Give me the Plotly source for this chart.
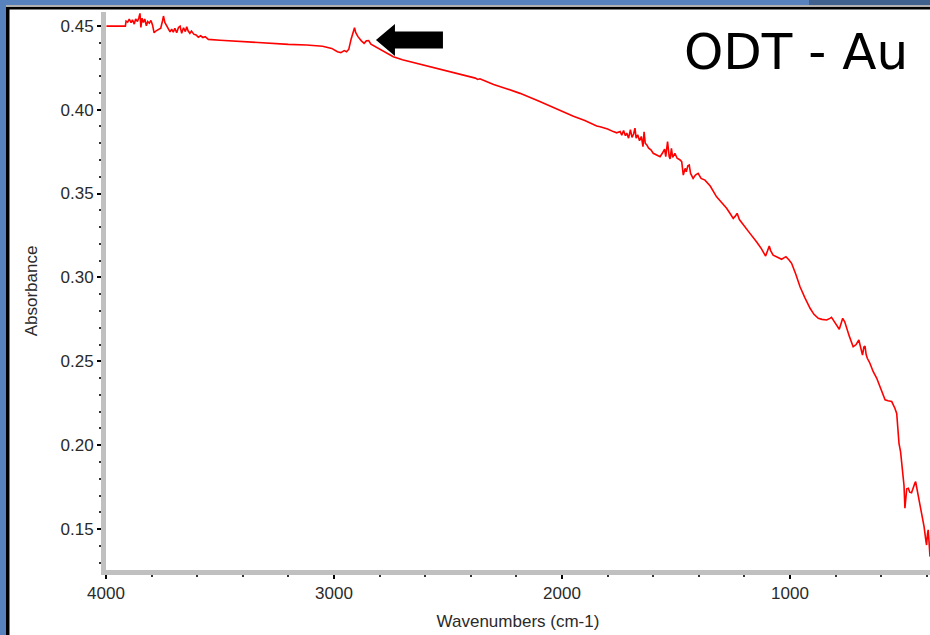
import plotly.graph_objects as go

# FTIR absorbance spectrum of an octadecanethiol monolayer on gold
wavenumber = [
    3998, 3960, 3915, 3912, 3905, 3898, 3890, 3884, 3876, 3870, 3862, 3856, 3851, 3847,
    3842, 3836, 3830, 3823, 3817, 3810, 3803, 3796, 3789, 3780, 3770, 3760, 3752, 3748,
    3742, 3735, 3728, 3719, 3712, 3705, 3698, 3690, 3682, 3675, 3668, 3660, 3652, 3646,
    3640, 3632, 3625, 3615, 3605, 3595, 3585, 3575, 3565, 3551, 3500, 3442, 3400, 3350,
    3295, 3250, 3200, 3120, 3050, 3010, 2985, 2970, 2955, 2945, 2935, 2925, 2915, 2910,
    2905, 2895, 2880, 2868, 2858, 2848, 2838, 2825, 2800, 2770, 2740, 2700, 2650, 2579,
    2500, 2420, 2380, 2370, 2360, 2350, 2300, 2250, 2184, 2100, 2050, 1995, 1950, 1900,
    1848, 1833, 1800, 1775, 1760, 1745, 1738, 1730, 1722, 1716, 1708, 1700, 1693, 1686,
    1680, 1675, 1668, 1660, 1652, 1645, 1640, 1635, 1628, 1620, 1610, 1600, 1590, 1580,
    1570, 1560, 1550, 1545, 1537, 1530, 1526, 1520, 1515, 1505, 1495, 1482, 1475, 1468,
    1460, 1455, 1448, 1442, 1436, 1425, 1415, 1403, 1390, 1373, 1350, 1322, 1300, 1278,
    1260, 1249, 1240, 1232, 1222, 1205, 1180, 1147, 1125, 1107, 1100, 1091, 1085, 1074,
    1055, 1037, 1025, 1018, 1005, 993, 975, 956, 935, 912, 895, 876, 860, 839,
    825, 818, 805, 795, 784, 775, 769, 760, 752, 740, 723, 710, 698, 690,
    682, 676, 671, 666, 661, 650, 635, 620, 605, 590, 583, 570, 554, 540,
    532, 527, 522, 515, 506, 500, 496, 492, 488, 481, 475, 467, 460, 452,
    449, 443, 435, 430, 420, 412, 404, 401, 397, 394, 390, 386,
]
absorbance = [
    0.4498, 0.4498, 0.4498, 0.4528, 0.4522, 0.4540, 0.4518, 0.4535, 0.4510, 0.4540, 0.4525, 0.4548, 0.4574, 0.4490,
    0.4545, 0.4520, 0.4540, 0.4500, 0.4525, 0.4515, 0.4532, 0.4505, 0.4458, 0.4470, 0.4478, 0.4485, 0.4530, 0.4558,
    0.4520, 0.4504, 0.4480, 0.4464, 0.4480, 0.4462, 0.4485, 0.4458, 0.4490, 0.4498, 0.4455, 0.4488, 0.4465, 0.4494,
    0.4470, 0.4455, 0.4468, 0.4450, 0.4445, 0.4432, 0.4440, 0.4430, 0.4435, 0.4419, 0.4414, 0.4409, 0.4404, 0.4398,
    0.4395, 0.4390, 0.4389, 0.4385, 0.4378, 0.4365, 0.4345, 0.4340, 0.4352, 0.4345, 0.4360, 0.4420, 0.4470, 0.4488,
    0.4460, 0.4435, 0.4410, 0.4395, 0.4410, 0.4412, 0.4390, 0.4380, 0.4358, 0.4335, 0.4315, 0.4297, 0.4280, 0.4256,
    0.4225, 0.4200, 0.4188, 0.4180, 0.4184, 0.4178, 0.4150, 0.4128, 0.4097, 0.4050, 0.4020, 0.3988, 0.3960, 0.3935,
    0.3902, 0.3898, 0.3885, 0.3869, 0.3862, 0.3870, 0.3848, 0.3875, 0.3845, 0.3860, 0.3830, 0.3880, 0.3835, 0.3855,
    0.3890, 0.3830, 0.3850, 0.3815, 0.3840, 0.3779, 0.3868, 0.3800, 0.3790, 0.3770, 0.3760, 0.3740, 0.3732, 0.3722,
    0.3719, 0.3740, 0.3765, 0.3720, 0.3809, 0.3720, 0.3706, 0.3769, 0.3715, 0.3740, 0.3710, 0.3700, 0.3690, 0.3610,
    0.3650, 0.3630, 0.3665, 0.3670, 0.3620, 0.3590, 0.3610, 0.3620, 0.3590, 0.3580, 0.3545, 0.3480, 0.3445, 0.3412,
    0.3375, 0.3352, 0.3365, 0.3382, 0.3345, 0.3312, 0.3270, 0.3213, 0.3170, 0.3127, 0.3150, 0.3187, 0.3160, 0.3133,
    0.3120, 0.3108, 0.3118, 0.3123, 0.3105, 0.3084, 0.3020, 0.2944, 0.2880, 0.2816, 0.2780, 0.2756, 0.2750, 0.2746,
    0.2756, 0.2762, 0.2735, 0.2710, 0.2691, 0.2730, 0.2756, 0.2735, 0.2706, 0.2650, 0.2587, 0.2600, 0.2627, 0.2580,
    0.2537, 0.2585, 0.2591, 0.2540, 0.2518, 0.2490, 0.2438, 0.2400, 0.2349, 0.2290, 0.2270, 0.2265, 0.2260, 0.2220,
    0.2189, 0.2100, 0.2011, 0.1960, 0.1852, 0.1760, 0.1624, 0.1700, 0.1740, 0.1743, 0.1720, 0.1717, 0.1750, 0.1775,
    0.1782, 0.1740, 0.1680, 0.1653, 0.1580, 0.1514, 0.1430, 0.1405, 0.1470, 0.1495, 0.1420, 0.1336,
]

x_ticks = [4000, 3000, 2000, 1000]
x_tick_text = ["4000", "3000", "2000", "1000"]
y_ticks = [0.15, 0.20, 0.25, 0.30, 0.35, 0.40, 0.45]
y_tick_text = ["0.15", "0.20", "0.25", "0.30", "0.35", "0.40", "0.45"]

# C-H stretch band being pointed at
arrow_tip = (2816, 0.4415)

W, H = 930, 635
L, R, T, B = 106, 0, 12, 65
PW, PH = W - L - R, H - T - B


def px(xp):
    return (xp - L) / PW


def py(yp):
    return (H - B - yp) / PH


fig = go.Figure()
fig.add_trace(go.Scatter(
    x=wavenumber, y=absorbance, mode="lines",
    line=dict(color="#ff0000", width=1.6),
    showlegend=False, hoverinfo="skip",
))

axis_font = dict(family="Liberation Sans, Arial, sans-serif", size=17, color="#2a2a2a")

fig.update_xaxes(
    range=[4000, 386], tickvals=x_ticks, ticktext=x_tick_text,
    showgrid=False, zeroline=False, showline=True, linecolor="#c0c0c0", linewidth=5,
    ticks="outside", ticklen=4, tickwidth=1.5, tickcolor="#000",
    minor=dict(dtick=200, ticks="outside", ticklen=2, tickwidth=1.5, tickcolor="#333"),
    tickfont=axis_font,
    title=dict(text="Wavenumbers (cm-1)", font=axis_font, standoff=14),
)
fig.update_yaxes(
    range=[0.1256, 0.4582], tickvals=y_ticks, ticktext=y_tick_text,
    showgrid=False, zeroline=False, showline=True, linecolor="#c0c0c0", linewidth=5,
    ticks="outside", ticklen=4, tickwidth=1.5, tickcolor="#000",
    minor=dict(dtick=0.01, ticks="outside", ticklen=2, tickwidth=1.5, tickcolor="#333"),
    tickfont=axis_font,
    title=dict(text="Absorbance", font=axis_font, standoff=20),
)

shapes = [
    # window frame: blue strips with dark edges
    dict(type="rect", xref="paper", yref="paper", x0=px(0), x1=px(6), y0=py(H), y1=py(0),
         fillcolor="#5782be", line_width=0, layer="above"),
    dict(type="rect", xref="paper", yref="paper", x0=px(0), x1=px(809), y0=py(5), y1=py(0),
         fillcolor="#5782be", line_width=0, layer="above"),
    dict(type="rect", xref="paper", yref="paper", x0=px(809), x1=px(W), y0=py(5), y1=py(0),
         fillcolor="#40608e", line_width=0, layer="above"),
    dict(type="rect", xref="paper", yref="paper", x0=px(6), x1=px(W), y0=py(7), y1=py(5),
         fillcolor="#b0b0b0", line_width=0, layer="above"),
    dict(type="rect", xref="paper", yref="paper", x0=px(6), x1=px(W), y0=py(9.5), y1=py(7),
         fillcolor="#000000", line_width=0, layer="above"),
    dict(type="rect", xref="paper", yref="paper", x0=px(6), x1=px(9.5), y0=py(H), y1=py(7),
         fillcolor="#000000", line_width=0, layer="above"),
    # black block arrow pointing at the C-H band
    dict(type="path", xref="x", yref="y", xsizemode="pixel", ysizemode="pixel",
         xanchor=arrow_tip[0], yanchor=arrow_tip[1],
         path="M 0 0 L 19 16 L 19 8.5 L 67 8.5 L 67 -8.5 L 19 -8.5 L 19 -16 Z",
         fillcolor="#000000", line=dict(width=0), layer="above"),
]

fig.update_layout(
    width=W, height=H,
    margin=dict(l=L, r=R, t=T, b=B),
    paper_bgcolor="#ffffff", plot_bgcolor="#ffffff",
    shapes=shapes,
    annotations=[dict(
        text="ODT - Au", xref="paper", yref="paper", x=px(910), y=py(52),
        xanchor="right", yanchor="middle", showarrow=False,
        font=dict(family="DejaVu Sans", size=50, color="#000000"),
    )],
)

fig.write_html("out.html")
